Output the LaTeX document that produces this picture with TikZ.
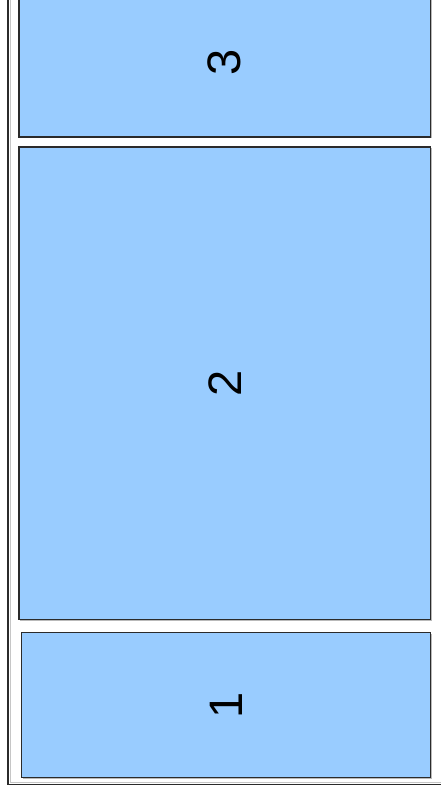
\documentclass[tikz,border=0pt]{standalone}
\usepackage{fontspec}
\setmainfont{Liberation Sans}
\usepackage{xcolor}
\usepackage{tikz}
\usetikzlibrary{shadows}

\definecolor{cellblue}{HTML}{99CCFF}
\definecolor{edgegray}{HTML}{2B2B2B}

\begin{document}
\begin{tikzpicture}[
    x=1pt, y=-1pt,
    cell/.style={draw=edgegray, line width=1.3pt, fill=cellblue,
        inner sep=0pt, outer sep=0pt, minimum width=411.5pt,
        font=\fontsize{47}{56}\selectfont,
        drop shadow={shadow xshift=1.2pt, shadow yshift=-1.2pt,
            fill=gray!55, opacity=1}},
    frame/.style={draw=edgegray, line width=1.5pt},
    frameshade/.style={draw=gray!45, line width=1pt},
]
    \useasboundingbox (0,0) rectangle (441,795);

    % outer container
    \draw[frameshade] (10.5,-5) -- (10.5,782) -- (446,782);
    \draw[frame] (8,-5) -- (8,784.5) -- (446,784.5);

    \node[cell, minimum height=150pt] (c3) at (224.75,62) {\rotatebox{90}{3}};
    \node[cell, minimum height=472.5pt] (c2) at (224.75,383.25) {\rotatebox{90}{2}};
    \node[cell, minimum width=409pt, minimum height=145pt] (c1) at (226,705)
        {\rotatebox{90}{1}};
\end{tikzpicture}
\end{document}
